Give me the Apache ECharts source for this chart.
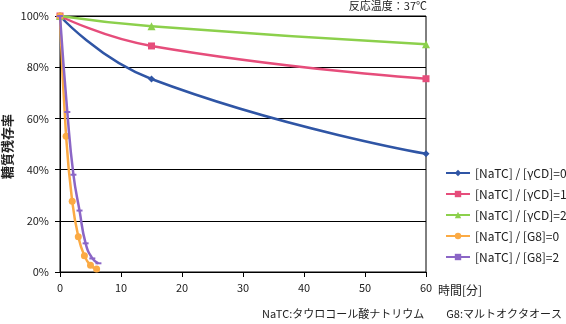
<!DOCTYPE html>
<html>
<head>
<meta charset="utf-8">
<script src="https://cdn.jsdelivr.net/npm/echarts@6/dist/echarts.min.js"></script>
<style>html,body{margin:0;padding:0;background:#fff}#c{width:566px;height:324px}</style>
</head>
<body>
<div id="c"></div>
<script>
const seriesNames = ['[NaTC] / [γCD]=0', '[NaTC] / [γCD]=1', '[NaTC] / [γCD]=2', '[NaTC] / [G8]=0', '[NaTC] / [G8]=2'];
const cdTimes = [0, 15, 60];
const cd0 = [100, 75.4, 46.2];
const cd1 = [100, 88.3, 75.5];
const cd2 = [100, 96.0, 89.0];
const g8Times0 = [0, 1, 2, 3, 4, 5, 6];
const g8v0 = [100, 53, 27.6, 13.8, 6.3, 2.6, 1.2];
const g8Times2 = [0, 1.2, 2.2, 3.2, 4.2, 5.3, 6.3];
const g8v2 = [100, 62.5, 38, 24, 11.2, 5.3, 3.4];
const xTicks = [0, 10, 20, 30, 40, 50, 60];
const yTicks = [0, 20, 40, 60, 80, 100];
const xName = '時間[分]';
const yName = '糖質残存率';
const titleText = '反応温度：37℃';
const note1 = 'NaTC:タウロコール酸ナトリウム';
const note2 = 'G8:マルトオクタオース';

const colors = ['#2F55A5', '#E64D7B', '#8CD04C', '#FBAA44', '#8B66C6'];
const FONT = '"Noto Sans CJK JP", sans-serif';
const pair = (xs, ys) => xs.map((x, i) => [x, ys[i]]);

const chart = echarts.init(document.getElementById('c'), null, {renderer: 'canvas'});
const mk = (i, data, symbol, size) => ({
  name: seriesNames[i], type: 'line', data: data, smooth: true,
  symbol: symbol, symbolSize: size, showSymbol: true,
  lineStyle: {color: colors[i], width: 2.5},
  itemStyle: {color: colors[i]},
  z: 2 + i
});
chart.setOption({
  animation: false,
  textStyle: {fontFamily: FONT},
  grid: {left: 60, right: 140, top: 16, bottom: 52, show: true, borderColor: '#000', borderWidth: 1},
  xAxis: {
    type: 'value', min: xTicks[0], max: xTicks[xTicks.length - 1], interval: 10,
    name: xName, nameLocation: 'end', nameGap: 10,
    nameTextStyle: {color: '#222', fontSize: 12, fontFamily: FONT, verticalAlign: 'top', padding: [12, 0, 0, 0]},
    axisLine: {show: true, lineStyle: {color: '#000', width: 1}},
    axisTick: {show: true, length: 5, lineStyle: {color: '#000'}},
    axisLabel: {color: '#222', fontSize: 11, margin: 10, fontFamily: FONT},
    splitLine: {show: false}
  },
  yAxis: {
    type: 'value', min: yTicks[0], max: yTicks[yTicks.length - 1], interval: 20,
    axisLine: {show: true, lineStyle: {color: '#000', width: 1}},
    axisTick: {show: true, length: 5, lineStyle: {color: '#000'}},
    axisLabel: {color: '#222', fontSize: 11, margin: 11, formatter: '{value}%', fontFamily: FONT},
    splitLine: {show: true, lineStyle: {color: '#000', width: 1}}
  },
  legend: {
    orient: 'vertical', left: 440, top: 162, itemGap: 9, itemWidth: 24, itemHeight: 8,
    textStyle: {color: '#222', fontSize: 12, fontFamily: FONT},
    data: seriesNames
  },
  graphic: [
    {type: 'text', right: 139, top: 0, style: {text: titleText, fill: '#222', font: '11px ' + FONT}},
    {type: 'text', left: 1, top: 114, rotation: Math.PI / 2, style: {text: yName, fill: '#222', font: 'bold 13px ' + FONT}},
    {type: 'text', left: 262, top: 308, style: {text: note1, fill: '#222', font: '11px ' + FONT}},
    {type: 'text', right: 4, top: 308, style: {text: note2, fill: '#222', font: '11px ' + FONT}}
  ],
  series: [
    mk(0, pair(cdTimes, cd0), 'diamond', 7),
    mk(1, pair(cdTimes, cd1), 'rect', 7),
    mk(2, pair(cdTimes, cd2), 'triangle', 8),
    mk(4, pair(g8Times2, g8v2), 'path://M0,0H10V2H0Z', [6, 2]),
    mk(3, pair(g8Times0, g8v0), 'circle', 7)
  ]
});
</script>
</body>
</html>
